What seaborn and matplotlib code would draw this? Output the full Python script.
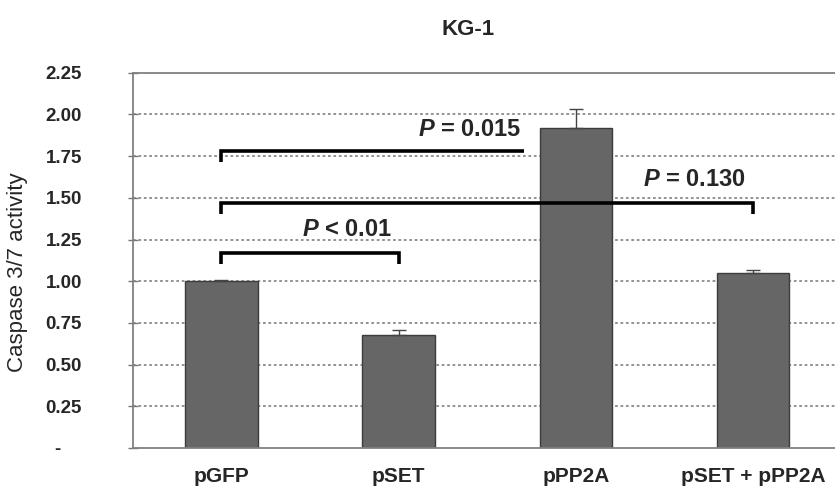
import numpy as np
import pandas as pd
import matplotlib
matplotlib.use("Agg")
import matplotlib.pyplot as plt
import seaborn as sns

# data
groups = ["pGFP", "pSET", "pPP2A", "pSET + pPP2A"]
activity = [1.00, 0.68, 1.92, 1.05]
activity_err = [0.005, 0.03, 0.11, 0.02]

# significance brackets: (left group, right end, bar height, text x, text y, label)
bracket_left = [0, 0, 0]
bracket_right = [1, 1.71, 3]
bracket_y = [1.17, 1.78, 1.47]
bracket_drop = [[True, True], [True, False], [True, True]]
p_labels = ["< 0.01", "= 0.015", "= 0.130"]
p_text_x = [0.71, 1.40, 2.67]
p_text_y = [1.31, 1.91, 1.61]

ytick_vals = [0, 0.25, 0.5, 0.75, 1.0, 1.25, 1.5, 1.75, 2.0, 2.25]

sns.set_style("white")
plt.rcParams['font.family'] = ['Liberation Sans', 'DejaVu Sans']
plt.rcParams['mathtext.fontset'] = 'custom'
plt.rcParams['mathtext.bfit'] = 'Liberation Sans:italic:bold'
plt.rcParams['mathtext.it'] = 'Liberation Sans:italic'
plt.rcParams['mathtext.rm'] = 'Liberation Sans'

df = pd.DataFrame({"group": groups, "activity": activity})

fig = plt.figure(figsize=(8.35, 4.96), dpi=100)
ax = fig.add_axes([0.159, 0.0968, 0.849, 0.7564])

# grid first so bars sit on top
for v in ytick_vals[1:-1]:
    ax.axhline(v, color="#8a8a8a", lw=1.3, ls=(0, (1.5, 1.5)), zorder=0)

sns.barplot(data=df, x="group", y="activity", color="#666666",
            edgecolor="#3c3c3c", linewidth=1.0, width=0.41,
            saturation=1, errorbar=None, ax=ax, zorder=2)

xpos = np.arange(len(groups))
ax.errorbar(xpos, activity, yerr=[np.zeros(len(groups)), activity_err],
            fmt="none", ecolor="#444444", elinewidth=1.0, capsize=5,
            capthick=1.0, zorder=3)

# brackets
drop = 0.065
for i in range(len(bracket_left)):
    x0, x1, y = bracket_left[i], bracket_right[i], bracket_y[i]
    xs = [x0, x0, x1, x1]
    ys = [y - drop if bracket_drop[i][0] else y, y, y,
          y - drop if bracket_drop[i][1] else y]
    ax.plot(xs, ys, color="black", lw=2.6, solid_capstyle="butt",
            solid_joinstyle="miter", zorder=4)
    ax.text(p_text_x[i], p_text_y[i], r"$\mathbfit{P}$ " + p_labels[i],
            ha="center", va="center", fontsize=17, fontweight="bold", zorder=5)

ax.set_xlim(-0.5, 3.5)
ax.set_ylim(0, 2.25)
ax.set_yticks(ytick_vals)
ax.set_yticklabels(["-    "] + ["%.2f" % v for v in ytick_vals[1:]],
                   fontsize=13.5, fontweight="bold")
ax.set_xticks(xpos)
ax.set_xticklabels(groups, fontsize=15, fontweight="bold")
ax.set_xticks(np.arange(-0.5, 4, 1), minor=True)
ax.tick_params(axis="x", which="major", length=0, pad=14)
ax.tick_params(axis="x", which="minor", length=6, width=1, color="#777777",
               direction="out")
ax.tick_params(axis="y", length=7, width=1, color="#777777",
               direction="inout", pad=33, left=True)
ax.set_xlabel("")
ax.set_ylabel("")

for side in ["left", "bottom", "top"]:
    ax.spines[side].set_visible(True)
    ax.spines[side].set_color("#808080")
    ax.spines[side].set_linewidth(1.3)
ax.spines["right"].set_visible(False)

fig.text(18 / 835, 1 - 272 / 496, "Caspase 3/7 activity", rotation=90,
         ha="center", va="center", fontsize=16, fontweight="medium")
fig.text(0.561, 0.94, "KG-1", ha="center", va="center",
         fontsize=16, fontweight="bold")

fig.savefig("out.png", dpi=100)
